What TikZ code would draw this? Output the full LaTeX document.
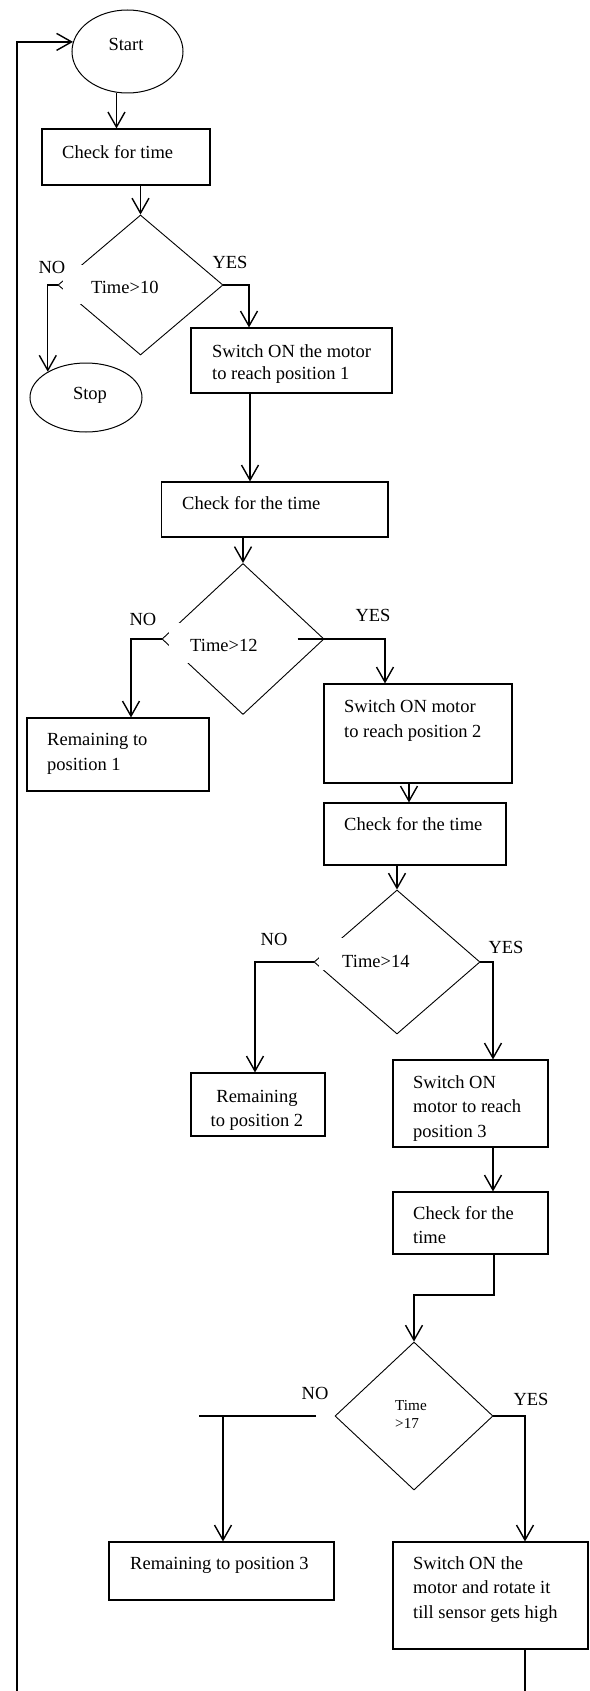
\documentclass[tikz,border=0pt]{standalone}
\usepackage{fontspec}
\setmainfont{Liberation Serif}
\usetikzlibrary{shapes.geometric,arrows.meta}
\begin{document}
\begin{tikzpicture}[x=1pt,y=-1pt,
  box/.style={draw, line width=1.1pt, rectangle, inner sep=0pt},
  term/.style={draw, line width=1pt, ellipse, inner sep=0pt},
  dec/.style={draw, line width=0.9pt, diamond, inner sep=0pt},
  txt/.style={inner sep=0pt, anchor=base west, align=left, font=\fontsize{18.5}{24.5}\selectfont},
  ctxt/.style={inner sep=0pt, anchor=base, align=center, font=\fontsize{18.5}{24.5}\selectfont},
  conn/.style={line width=1.4pt},
  arr/.style={conn, -{Straight Barb[length=15pt,width=17pt]}},
]
\useasboundingbox (0,0) rectangle (589,1691);

% terminals
\node[term, minimum width=111pt, minimum height=83pt] (start) at (127.5,51.5) {};
\node[term, minimum width=112pt, minimum height=69pt] (stop) at (86,397.5) {};

% boxes
\node[box, minimum width=168pt, minimum height=56pt] (check1) at (126,157) {};
\node[box, minimum width=201pt, minimum height=65pt] (sw1) at (291.5,360.5) {};
\node[box, minimum width=226.5pt, minimum height=55pt] (check2) at (274.75,509.5) {};
\node[box, minimum width=182pt, minimum height=73pt] (rem1) at (118,754.5) {};
\node[box, minimum width=188pt, minimum height=99pt] (sw2) at (418,733.5) {};
\node[box, minimum width=182pt, minimum height=62pt] (check3) at (415,834) {};
\node[box, minimum width=134pt, minimum height=63pt] (rem2) at (258,1104.5) {};
\node[box, minimum width=155pt, minimum height=87pt] (sw3) at (470.5,1103.5) {};
\node[box, minimum width=155pt, minimum height=62pt] (check4) at (470.5,1223) {};
\node[box, minimum width=225pt, minimum height=58pt] (rem3) at (221.5,1571) {};
\node[box, minimum width=195pt, minimum height=107pt] (sw4) at (490.5,1595.5) {};

% decisions
\node[dec, minimum width=165pt, minimum height=140pt] (d10) at (140.5,285) {};
\node[dec, minimum width=162pt, minimum height=151pt] (d12) at (243,639) {};
\node[dec, minimum width=166pt, minimum height=144pt] (d14) at (397,962) {};
\node[dec, minimum width=158pt, minimum height=148pt] (d17) at (414,1416) {};

% gaps in the decision outlines behind their texts
\fill[white] (63,265) rectangle (160,304);
\fill[white] (169,623) rectangle (290,663);
\fill[white] (319,938) rectangle (420,970);

% texts (multi-line nodes are placed by the baseline of their last line)
\node[ctxt] (tstart) at (126,51) {Start};
\node[ctxt] (tstop) at (90,399) {Stop};
\node[txt] (tcheck1) at (62,158) {Check for time};
\node[txt, font=\fontsize{18.5}{22}\selectfont] (tsw1) at (212,379) {Switch ON the motor\\to reach position 1};
\node[txt] (tcheck2) at (182,509) {Check for the time};
\node[txt] (trem1) at (47,770) {Remaining to\\position 1};
\node[txt] (tsw2) at (344,737) {Switch ON motor\\to reach position 2};
\node[txt] (tcheck3) at (344,830) {Check for the time};
\node[ctxt] (trem2) at (257,1126.5) {Remaining\\to position 2};
\node[txt] (tsw3) at (413,1137) {Switch ON\\motor to reach\\position 3};
\node[txt] (tcheck4) at (413,1243.5) {Check for the\\time};
\node[txt] (trem3) at (130,1569) {Remaining to position 3};
\node[txt] (tsw4) at (413,1618) {Switch ON the\\motor and rotate it\\till sensor gets high};

\node[txt] (td10) at (91,293) {Time>10};
\node[txt] (td12) at (190,651) {Time>12};
\node[txt] (td14) at (342,967) {Time>14};
\node[txt, font=\fontsize{15.2}{18}\selectfont] (td17) at (395,1428) {Time\\>17};

% branch labels
\node[ctxt] (no10) at (52,273) {NO};
\node[ctxt] (yes10) at (230,268) {YES};
\node[ctxt] (no12) at (143,625) {NO};
\node[ctxt] (yes12) at (373,621) {YES};
\node[ctxt] (no14) at (274,945) {NO};
\node[ctxt] (yes14) at (506,953) {YES};
\node[ctxt] (no17) at (315,1399) {NO};
\node[ctxt] (yes17) at (531,1405) {YES};

% connectors
\coordinate (loopbot) at (17,1691);
\draw[arr] (loopbot) |- (start.170);
\draw[arr] (start.255) -- (start.255 |- check1.north);
\draw[arr] (check1.south -| d10.north) -- (d10.north);
\draw[arr] (d10.west) -| (stop.146);
\draw[arr] (d10.east) -| (sw1.north -| 249,0);
\draw[arr] (sw1.south -| 250,0) -- (check2.north -| 250,0);
\draw[arr] (check2.south -| d12.north) -- (d12.north);
\draw[arr] (d12.west) -| (rem1.north -| 131,0);
\coordinate (y12) at (297.5,639);
\draw[arr] (y12) -| (sw2.north -| 385,0);
\draw[arr] (sw2.south -| 409,0) -- (check3.north -| 409,0);
\draw[arr] (check3.south -| d14.north) -- (d14.north);
\draw[arr] (d14.west) -| (rem2.north -| 255,0);
\draw[arr] (d14.east) -| (sw3.north -| 493,0);
\draw[arr] (sw3.south -| 493,0) -- (check4.north -| 493,0);
\coordinate (bend17) at (494,1295);
\draw[arr] (check4.south -| 494,0) -- (bend17) -| (d17.north);
\coordinate (no17a) at (316,1416);
\coordinate (no17b) at (199,1416);
\coordinate (no17c) at (223,1416);
\draw[conn] (no17a) -- (no17b);
\draw[arr] (no17c) -- (rem3.north -| no17c);
\draw[arr] (d17.east) -| (sw4.north -| 525,0);
\coordinate (sw4end) at (525,1691);
\draw[conn] (sw4.south -| 525,0) -- (sw4end);
\end{tikzpicture}
\end{document}
